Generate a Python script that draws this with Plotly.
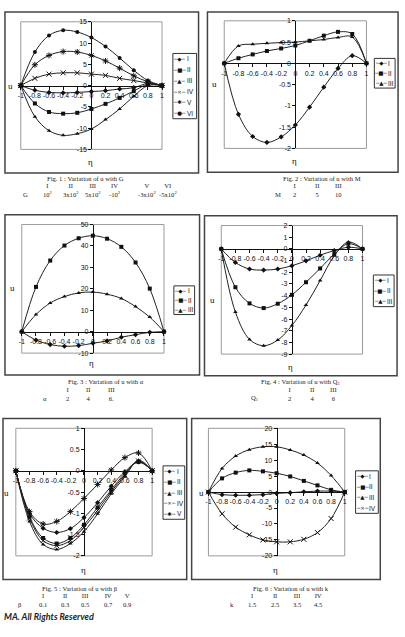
import plotly.graph_objects as go

W, H = 405, 637

# ---------------- data ----------------
eta = [-1, -0.8, -0.6, -0.4, -0.2, 0, 0.2, 0.4, 0.6, 0.8, 1]
eta_ticks = ["-1", "-0.8", "-0.6", "-0.4", "-0.2", "0", "0.2", "0.4", "0.6", "0.8", "1"]

# Fig 1: variation of u with G
fig1_names = ["I", "II", "III", "IV", "V", "VI"]
fig1_I = [0, -1.1, -1.6, -1.7, -1.6, -1.4, -1.2, -0.8, -0.5, 0.5, 0]
fig1_II = [0, -4.2, -6.2, -6.6, -6.4, -5.5, -4.3, -2.9, -1.3, 0.3, 0]
fig1_III = [0, -7.3, -10.6, -11.7, -11.3, -10.2, -8.0, -5.5, -2.5, 0.0, 0]
fig1_IV = [0, 1.7, 2.7, 3.0, 3.0, 2.7, 2.4, 1.7, 1.2, 0.6, 0]
fig1_V = [0, 4.9, 7.1, 8.0, 7.9, 7.1, 5.8, 4.1, 2.3, 0.9, 0]
fig1_VI = [0, 7.9, 11.8, 13.0, 12.6, 11.3, 9.2, 6.5, 3.6, 1.2, 0]

# Fig 2: variation of u with M
fig2_names = ["I", "II", "III"]
fig2_I = [0, -1.20, -1.72, -1.86, -1.73, -1.45, -1.03, -0.56, -0.12, 0.18, 0]
fig2_II = [0, 0.12, 0.21, 0.29, 0.35, 0.42, 0.53, 0.65, 0.74, 0.69, 0]
fig2_III = [0, 0.41, 0.45, 0.47, 0.49, 0.50, 0.53, 0.56, 0.61, 0.62, 0]

# Fig 3: variation of u with alpha
fig3_names = ["I", "II", "III"]
fig3_I = [0, -3.9, -6.0, -6.8, -6.5, -5.4, -4.3, -2.6, -1.4, -0.3, 0]
fig3_II = [0, 20.9, 33.2, 40.2, 43.6, 44.8, 43.4, 39.6, 32.3, 20.1, 0]
fig3_III = [0, 8.0, 13.4, 16.4, 18.1, 18.5, 17.5, 15.5, 11.7, 6.8, 0]

# Fig 4: variation of u with Q1
fig4_names = ["I", "II", "III"]
fig4_I = [0, -1.16, -1.72, -1.81, -1.72, -1.44, -1.02, -0.54, -0.14, 0.14, 0]
fig4_II = [0, -3.28, -4.66, -5.06, -4.69, -3.93, -2.85, -1.67, -0.45, 0.45, 0]
fig4_III = [0, -5.40, -7.74, -8.28, -7.80, -6.55, -4.80, -2.71, -0.59, 0.59, 0]

# Fig 5: variation of u with beta
fig5_names = ["I", "II", "III", "IV", "V"]
fig5_I = [0, -1.00, -1.35, -1.45, -1.36, -1.10, -0.75, -0.36, -0.02, 0.21, 0]
fig5_II = [0, -1.08, -1.58, -1.71, -1.58, -1.27, -0.86, -0.45, -0.06, 0.21, 0]
fig5_III = [0, -1.19, -1.73, -1.85, -1.71, -1.43, -1.01, -0.54, -0.14, 0.25, 0]
fig5_IV = [0, -1.11, -1.64, -1.76, -1.64, -1.33, -0.93, -0.49, -0.10, 0.23, 0]
fig5_V = [0, -0.96, -1.25, -1.19, -0.96, -0.65, -0.32, 0.02, 0.31, 0.42, 0]

# Fig 6: variation of u with k
fig6_names = ["I", "II", "III", "IV"]
fig6_I = [0, -0.8, -1.0, -1.0, -0.8, -0.4, -0.2, 0.1, 0.3, 0.3, 0]
fig6_II = [0, 4.3, 6.1, 6.8, 6.5, 5.9, 4.9, 3.5, 2.1, 0.7, 0]
fig6_III = [0, 7.4, 11.3, 13.3, 14.2, 14.2, 13.2, 11.6, 9.1, 5.2, 0]
fig6_IV = [0, -6.8, -11.0, -13.4, -15.0, -15.6, -15.6, -14.8, -12.7, -8.3, 0]

# caption parameter tables
fig1_param = ["10<sup>2</sup>", "3x10<sup>2</sup>", "5x10<sup>2</sup>", "-10<sup>2</sup>", "-3x10<sup>2</sup>", "-5x10<sup>2</sup>"]
fig2_param = ["2", "5", "10"]
fig3_param = ["2", "4", "6."]
fig4_param = ["2", "4", "6"]
fig5_param = ["0.1", "0.3", "0.5", "0.7", "0.9"]
fig6_param = ["1.5", "2.5", "3.5", "4.5"]

# ---------------- layout helpers ----------------
def fx(p):
    return p / W


def fy(p):
    return 1 - p / H


SYMBOLS = {"I": "diamond", "II": "square", "III": "triangle-up",
           "IV": "x-thin", "V": "asterisk", "VI": "circle"}
GLYPHS = {"I": "◆", "II": "■", "III": "▲", "IV": "×", "V": "✱", "VI": "●"}

panels = [
    dict(series=[fig1_I, fig1_II, fig1_III, fig1_IV, fig1_V, fig1_VI], names=fig1_names,
         box=(2, 8, 198, 171), plot=(18, 18, 161, 147), yr=(-15, 15), dt=5,
         legbox=(172, 50, 196, 116), u=(8, 83), eta=(89, 160),
         cap="Fig. 1 : Variation of u with G", cap_x=84, cap_y=176,
         sym="G", sym_x=23, cols=[46, 69, 91, 113, 146, 167], param=fig1_param),
    dict(series=[fig2_I, fig2_II, fig2_III], names=fig2_names,
         box=(207, 8, 400, 170), plot=(224, 17, 368, 146), yr=(-2, 1), dt=0.5,
         legbox=(376, 55, 397, 85), u=(214, 81), eta=(295, 159),
         cap="Fig. 2 : Variation of u with M", cap_x=323, cap_y=176,
         sym="M", sym_x=278, cols=[295, 318, 340], param=fig2_param),
    dict(series=[fig3_I, fig3_II, fig3_III], names=fig3_names,
         box=(2, 213, 199, 375), plot=(19, 223, 163, 353), yr=(-10, 50), dt=10,
         legbox=(173, 285, 194, 314), u=(10, 287), eta=(90, 363),
         cap="Fig. 3 : Variation of u with α", cap_x=104, cap_y=382,
         sym="α", sym_x=43, cols=[65, 87, 110], param=fig3_param),
    dict(series=[fig4_I, fig4_II, fig4_III], names=fig4_names,
         box=(204, 214, 399, 376), plot=(221, 224, 364, 354), yr=(-9, 2), dt=1,
         legbox=(375, 274, 396, 306), u=(212, 299), eta=(291, 367),
         cap="Fig. 4 : Variation of u with Q<sub>1</sub>", cap_x=301, cap_y=382,
         sym="Q<sub>1</sub>", sym_x=255, cols=[290, 313, 335], param=fig4_param),
    dict(series=[fig5_I, fig5_II, fig5_III, fig5_IV, fig5_V], names=fig5_names,
         box=(0, 419, 186, 582), plot=(13, 429, 151, 558), yr=(-2, 1), dt=0.5,
         legbox=(162, 467, 184, 521), u=(4, 494), eta=(81, 572),
         cap="Fig. 5 : Variation of u with β", cap_x=78, cap_y=591,
         sym="β", sym_x=17, cols=[41, 63, 84, 107, 126], param=fig5_param),
    dict(series=[fig6_I, fig6_II, fig6_III, fig6_IV], names=fig6_names,
         box=(191, 419, 382, 582), plot=(208, 429, 346, 558), yr=(-20, 20), dt=5,
         legbox=(357, 472, 380, 515), u=(201, 494), eta=(276, 572),
         cap="Fig. 6 : Variation of u with k", cap_x=292, cap_y=591,
         sym="k", sym_x=232, cols=[253, 276, 298, 319], param=fig6_param),
]

TICKFONT = dict(family="Liberation Sans, Arial", size=7, color="#111")
SERIF = "Liberation Serif, Times New Roman"
CAPFONT = dict(family=SERIF, size=6.6, color="#222")
GLYPHFONT = dict(family="DejaVu Sans", size=5.5, color="#111")
LEGFONT = dict(family="Liberation Sans, Arial", size=6.5, color="#111")

fig = go.Figure()
shapes = []
annotations = []
layout = {}


def note(text, x, y, font, **kw):
    d = dict(text=text, x=fx(x), y=fy(y), xref="paper", yref="paper",
             showarrow=False, font=font, borderpad=0,
             xanchor="center", yanchor="middle")
    d.update(kw)
    annotations.append(d)


for k, p in enumerate(panels, start=1):
    sfx = "" if k == 1 else str(k)
    L, T, R, B = p["plot"]
    xdom = [fx(L), fx(R)]
    ydom = [fy(B), fy(T)]
    ymin, ymax = p["yr"]
    # where the axes cross (data value 0) in paper coordinates
    x_axis_pos = ydom[0] + (0 - ymin) / (ymax - ymin) * (ydom[1] - ydom[0])
    y_axis_pos = xdom[0] + (0 - (-1)) / 2 * (xdom[1] - xdom[0])

    n = int(round((ymax - ymin) / p["dt"]))
    yvals = [ymin + i * p["dt"] for i in range(n + 1)]
    ytext = [f"{v:g}" for v in yvals]

    common = dict(showline=True, linecolor="#111", linewidth=1, ticks="outside",
                  ticklen=3, tickcolor="#111", tickwidth=1, showgrid=False,
                  zeroline=False, tickfont=TICKFONT, fixedrange=True, tickangle=0,
                  anchor="free", tickmode="array")
    layout[f"xaxis{sfx}"] = dict(domain=xdom, range=[-1, 1], position=x_axis_pos,
                                 tickvals=eta, ticktext=eta_ticks, **common)
    layout[f"yaxis{sfx}"] = dict(domain=ydom, range=[ymin, ymax], position=y_axis_pos,
                                 tickvals=yvals, ticktext=ytext, **common)

    for name, vals in zip(p["names"], p["series"]):
        sym = SYMBOLS[name]
        thin = sym in ("x-thin", "asterisk")
        fig.add_trace(go.Scatter(
            x=eta, y=vals, name=name, mode="lines+markers", showlegend=False,
            xaxis=f"x{sfx}", yaxis=f"y{sfx}",
            line=dict(shape="spline", smoothing=1, color="#222", width=1),
            marker=dict(symbol=sym, size=5 if thin else 4, color="#111",
                        line=dict(width=1 if thin else 0, color="#111")),
            cliponaxis=False))

    # outer frame
    bL, bT, bR, bB = p["box"]
    shapes.append(dict(type="rect", xref="paper", yref="paper",
                       x0=fx(bL), x1=fx(bR), y0=fy(bB), y1=fy(bT),
                       line=dict(color="#444", width=1.5), layer="below"))
    # plot-area frame
    shapes.append(dict(type="rect", xref=f"x{sfx} domain", yref=f"y{sfx} domain",
                       x0=0, x1=1, y0=0, y1=1,
                       line=dict(color="#9a9a9a", width=1), layer="below"))

    # compact legend box (as in the source figure)
    lL, lT, lR, lB = p["legbox"]
    shapes.append(dict(type="rect", xref="paper", yref="paper",
                       x0=fx(lL), x1=fx(lR), y0=fy(lB), y1=fy(lT),
                       line=dict(color="#333", width=1), fillcolor="white", layer="below"))
    nrow = len(p["names"])
    step = (lB - lT) / nrow
    for i, name in enumerate(p["names"]):
        yc = lT + step * (i + 0.5)
        note(f"─{GLYPHS[name]}─", lL + 7, yc, GLYPHFONT)
        note(name, lL + 13, yc, LEGFONT, xanchor="left")

    # axis titles
    note("u", p["u"][0], p["u"][1], dict(family=SERIF, size=9, color="#111"))
    note("η", p["eta"][0], p["eta"][1], dict(family=SERIF, size=9, color="#111"))

    # captions: title line, then one two-line block per series column
    cy = p["cap_y"]
    note(p["cap"], p["cap_x"], cy, CAPFONT)
    note(p["sym"], p["sym_x"], cy + 16.5, CAPFONT)
    for cx, nm, pv in zip(p["cols"], p["names"], p["param"]):
        note(f"{nm}<br>{pv}", cx, cy + 12, CAPFONT)

note("<b><i>MA. All Rights Reserved</i></b>", 0, 619,
     dict(family="Lato, Open Sans, Liberation Sans", size=9, color="#222"), xanchor="left")

fig.update_layout(
    width=W, height=H, autosize=False,
    margin=dict(l=0, r=0, t=0, b=0, pad=0),
    paper_bgcolor="white", plot_bgcolor="white",
    shapes=shapes, annotations=annotations, showlegend=False,
    **layout)

fig.write_html("out.html")
